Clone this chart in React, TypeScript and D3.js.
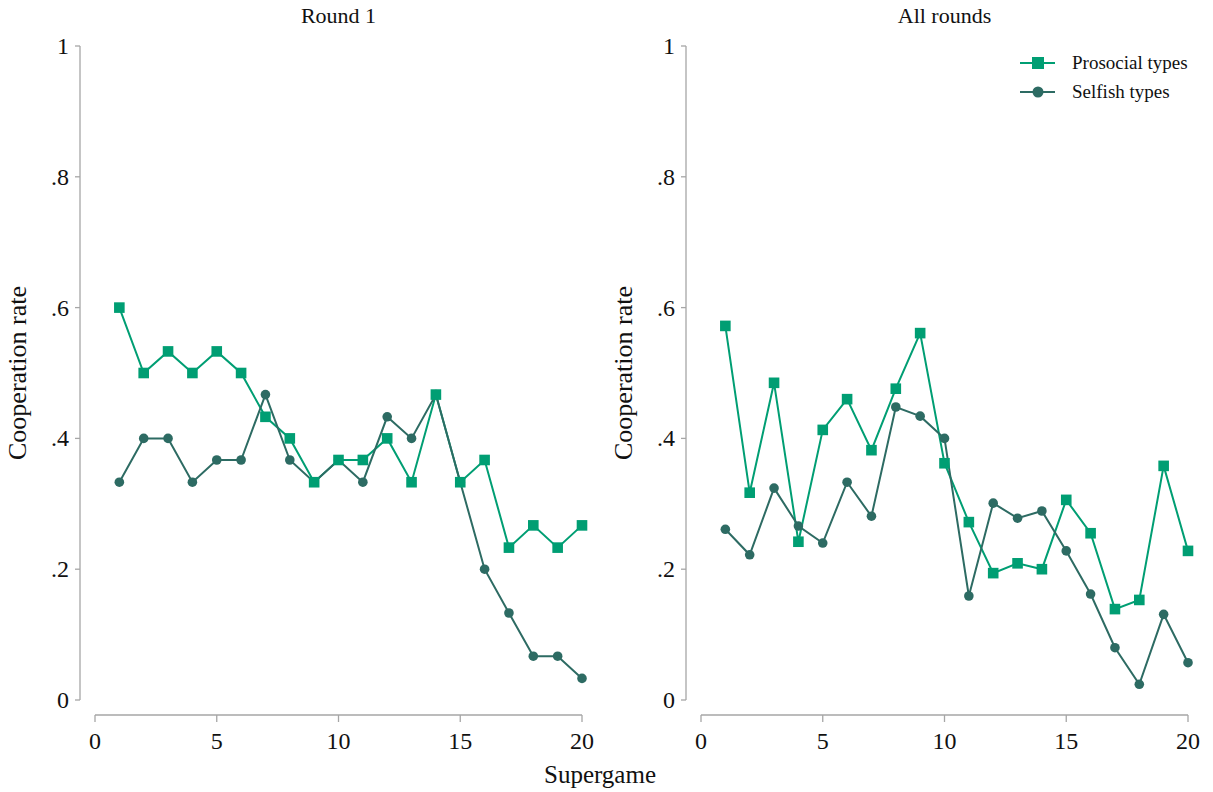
import React from 'react';
import * as d3 from 'd3';

const supergames = d3.range(1, 21);

// Round 1
const round1Prosocial = [0.6, 0.5, 0.533, 0.5, 0.533, 0.5, 0.433, 0.4, 0.333, 0.367, 0.367, 0.4, 0.333, 0.467, 0.333, 0.367, 0.233, 0.267, 0.233, 0.267];
const round1Selfish = [0.333, 0.4, 0.4, 0.333, 0.367, 0.367, 0.467, 0.367, 0.333, 0.367, 0.333, 0.433, 0.4, 0.467, 0.333, 0.2, 0.133, 0.067, 0.067, 0.033];

// All rounds
const allProsocial = [0.572, 0.317, 0.485, 0.242, 0.413, 0.46, 0.382, 0.476, 0.561, 0.362, 0.272, 0.194, 0.209, 0.2, 0.306, 0.255, 0.139, 0.153, 0.358, 0.228];
const allSelfish = [0.261, 0.222, 0.324, 0.266, 0.24, 0.333, 0.281, 0.448, 0.434, 0.4, 0.159, 0.301, 0.278, 0.289, 0.228, 0.162, 0.08, 0.024, 0.131, 0.057];

const yTicks = [0, 0.2, 0.4, 0.6, 0.8, 1];
const xTicks = [0, 5, 10, 15, 20];

const PRO = '#009E73';
const SELF = '#2D6B63';
const AXIS = '#a6a6a6';
const FONT = '"Liberation Serif", "DejaVu Serif", serif';

const W = 1213;
const H = 792;

const fmtY = (v: number) => (v === 0 ? '0' : v === 1 ? '1' : d3.format('.1f')(v).replace(/^0/, ''));

const Panel = ({ left, title, pro, self, legend }: any) => {
  const axisX = left;
  const x = d3.scaleLinear().domain([0, 20]).range([left + 15, left + 502]);
  const y = d3.scaleLinear().domain([0, 1]).range([700, 46]);
  const xAxisY = 715;
  const line = d3.line<number>().x((_, i) => x(supergames[i])).y(d => y(d));

  return (
    <g>
      <text x={(x(0) + x(20)) / 2} y={23} textAnchor="middle" fontSize={22} fill="#111">{title}</text>
      {/* y axis */}
      <line x1={axisX} x2={axisX} y1={y(0)} y2={y(1)} stroke={AXIS} strokeWidth={1.3} />
      {yTicks.map(t => (
        <g key={t}>
          <line x1={axisX - 5} x2={axisX} y1={y(t)} y2={y(t)} stroke={AXIS} strokeWidth={1.3} />
          <text x={axisX - 11} y={y(t) + 8} textAnchor="end" fontSize={24} fill="#111">{fmtY(t)}</text>
        </g>
      ))}
      <text transform={`translate(${left - 54},${373}) rotate(-90)`} textAnchor="middle" fontSize={26} fill="#111">Cooperation rate</text>
      {/* x axis */}
      <line x1={x(0)} x2={x(20)} y1={xAxisY} y2={xAxisY} stroke={AXIS} strokeWidth={1.3} />
      {xTicks.map(t => (
        <g key={t}>
          <line x1={x(t)} x2={x(t)} y1={xAxisY} y2={xAxisY + 7} stroke={AXIS} strokeWidth={1.3} />
          <text x={x(t)} y={xAxisY + 34} textAnchor="middle" fontSize={24} fill="#111">{t}</text>
        </g>
      ))}
      {/* series */}
      <path d={line(pro) || ''} fill="none" stroke={PRO} strokeWidth={2} />
      <path d={line(self) || ''} fill="none" stroke={SELF} strokeWidth={2} />
      {self.map((v: number, i: number) => (
        <circle key={'s' + i} cx={x(supergames[i])} cy={y(v)} r={4.8} fill={SELF} />
      ))}
      {pro.map((v: number, i: number) => (
        <rect key={'p' + i} x={x(supergames[i]) - 5.3} y={y(v) - 5.3} width={10.6} height={10.6} fill={PRO} />
      ))}
      {legend && (
        <g>
          <line x1={1020} x2={1055} y1={63} y2={63} stroke={PRO} strokeWidth={2} />
          <rect x={1032} y={57} width={12} height={12} fill={PRO} />
          <text x={1072} y={69} fontSize={19} fill="#111">Prosocial types</text>
          <line x1={1020} x2={1055} y1={92} y2={92} stroke={SELF} strokeWidth={2} />
          <circle cx={1038} cy={92} r={5.5} fill={SELF} />
          <text x={1072} y={98} fontSize={19} fill="#111">Selfish types</text>
        </g>
      )}
    </g>
  );
};

export default function App() {
  return (
    <svg width={W} height={H} style={{ display: 'block', position: 'absolute', left: 0, top: 0, background: '#fff' }} fontFamily={FONT}>
      <rect width={W} height={H} fill="#fff" />
      <Panel left={80} title="Round 1" pro={round1Prosocial} self={round1Selfish} legend={false} />
      <Panel left={686} title="All rounds" pro={allProsocial} self={allSelfish} legend={true} />
      <text x={600} y={783} textAnchor="middle" fontSize={25} fill="#111">Supergame</text>
    </svg>
  );
}
